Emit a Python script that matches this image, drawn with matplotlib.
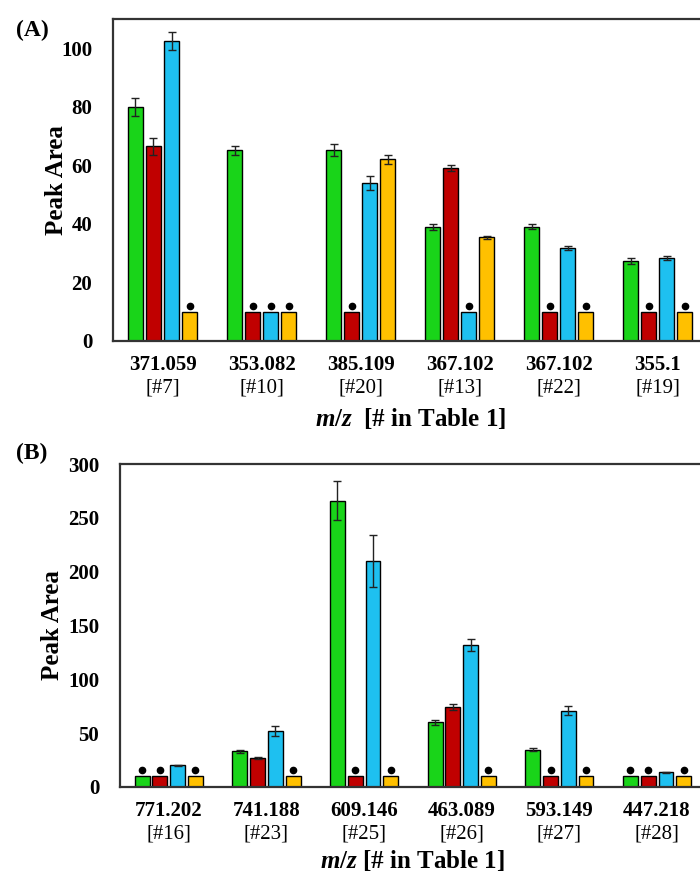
import numpy as np
import matplotlib
matplotlib.use("Agg")
import matplotlib.pyplot as plt
import matplotlib.transforms as mtrans

SERIES_COLORS = ["#19D419", "#C00000", "#1EC0F0", "#FFC000"]

# panel A
A_MZ = ["371.059", "353.082", "385.109", "367.102", "367.102", "355.1"]
A_ID = ["[#7]", "[#10]", "[#20]", "[#13]", "[#22]", "[#19]"]
A_VAL = [
    [80.0, 65.2, 65.2, 39.0, 39.0, 27.3],   # green
    [66.5, 10.0, 10.0, 59.0, 10.0, 10.0],   # red
    [102.5, 10.0, 54.0, 10.0, 31.7, 28.5],  # blue
    [10.0, 10.0, 62.0, 35.5, 10.0, 10.0],   # yellow
]
A_ERR = [
    [3.0, 1.5, 2.0, 1.0, 0.8, 1.0],
    [3.0, 0.0, 0.0, 1.0, 0.0, 0.0],
    [3.0, 0.0, 2.5, 0.0, 0.7, 0.7],
    [0.0, 0.0, 1.5, 0.5, 0.0, 0.0],
]
A_ND = [
    [0, 0, 0, 0, 0, 0],
    [0, 1, 1, 0, 1, 1],
    [0, 1, 0, 1, 0, 0],
    [1, 1, 0, 0, 1, 1],
]

# panel B
B_MZ = ["771.202", "741.188", "609.146", "463.089", "593.149", "447.218"]
B_ID = ["[#16]", "[#23]", "[#25]", "[#26]", "[#27]", "[#28]"]
B_VAL = [
    [10.0, 33.0, 266.0, 60.0, 34.5, 10.0],
    [10.0, 27.0, 10.0, 74.5, 10.0, 10.0],
    [20.0, 52.0, 210.0, 132.0, 71.0, 13.5],
    [10.0, 10.0, 10.0, 10.0, 10.0, 10.0],
]
B_ERR = [
    [0.0, 1.5, 18.0, 2.0, 1.5, 0.0],
    [0.0, 1.0, 0.0, 3.0, 0.0, 0.0],
    [0.5, 5.0, 24.0, 5.5, 4.0, 0.3],
    [0.0, 0.0, 0.0, 0.0, 0.0, 0.0],
]
B_ND = [
    [1, 0, 0, 0, 0, 1],
    [1, 0, 1, 0, 1, 1],
    [0, 0, 0, 0, 0, 0],
    [1, 1, 1, 1, 1, 1],
]

plt.rcParams.update({
    "font.family": "serif",
    "font.serif": ["Liberation Serif", "DejaVu Serif"],
    "font.weight": "bold",
    "mathtext.fontset": "custom",
    "mathtext.rm": "Liberation Serif:bold",
    "mathtext.it": "Liberation Serif:bold:italic",
})

fig = plt.figure(figsize=(7, 8.75), dpi=100)


def panel(rect, mz, ids, vals, errs, nd, ymax, yticks, xlab):
    ax = fig.add_axes(rect)
    x = np.arange(len(mz))
    step, width = 0.182, 0.152
    dot_tr = mtrans.offset_copy(ax.transData, fig=fig, y=6, units="dots")
    for k in range(4):
        xs = x + (k - 1.5) * step
        v = np.array(vals[k])
        e = np.array(errs[k])
        ax.bar(xs, v, width=width, color=SERIES_COLORS[k], edgecolor="black",
               linewidth=1.0, zorder=2)
        m = e > 0
        ax.errorbar(xs[m], v[m], yerr=e[m], fmt="none", ecolor="#222",
                    elinewidth=1.0, capsize=3, capthick=1.0, zorder=3)
        f = np.array(nd[k]) == 1
        ax.plot(xs[f], v[f], "o", color="black", markersize=4.5,
                transform=dot_tr, zorder=4)
    ax.set_xlim(-0.5, len(mz) - 0.5)
    ax.set_ylim(0, ymax)
    ax.set_yticks(yticks)
    ax.set_xticks(x)
    ax.set_xticklabels(mz, fontsize=15, fontweight="bold")
    ax.tick_params(axis="both", length=0, labelsize=15)
    ax.tick_params(axis="y", pad=15)
    ax.tick_params(axis="x", pad=10)
    for s in ("left", "top", "bottom"):
        ax.spines[s].set_linewidth(1.6)
        ax.spines[s].set_color("#333")
    ax.spines["right"].set_visible(False)
    lbl_tr = mtrans.offset_copy(ax.get_xaxis_transform(), fig=fig, y=-47,
                                units="dots")
    for xi, t in zip(x, ids):
        ax.text(xi, 0, t, transform=lbl_tr, ha="center", va="center",
                fontsize=15, fontweight="normal")
    ax.set_ylabel("Peak Area", fontsize=18, fontweight="bold")
    ax.set_xlabel(xlab, fontsize=18, fontweight="bold")
    return ax


axA = panel([0.1614, 0.6103, 0.849, 0.368], A_MZ, A_ID, A_VAL, A_ERR, A_ND,
            110, [0, 20, 40, 60, 80, 100], r"$m/z$  [# in Table 1]")
axB = panel([0.1714, 0.1006, 0.837, 0.369], B_MZ, B_ID, B_VAL, B_ERR, B_ND,
            300, [0, 50, 100, 150, 200, 250, 300], r"$m/z$ [# in Table 1]")
axA.xaxis.set_label_coords(0.5, -0.201)
axB.xaxis.set_label_coords(0.5, -0.19)
axA.yaxis.set_label_coords(-0.076, 0.5)
axB.yaxis.set_label_coords(-0.095, 0.5)

fig.text(32 / 700, 1 - 30 / 875, "(A)", fontsize=17, fontweight="bold",
         ha="center", va="center")
fig.text(32 / 700, 1 - 453 / 875, "(B)", fontsize=17, fontweight="bold",
         ha="center", va="center")

fig.savefig("out.png", dpi=100)
